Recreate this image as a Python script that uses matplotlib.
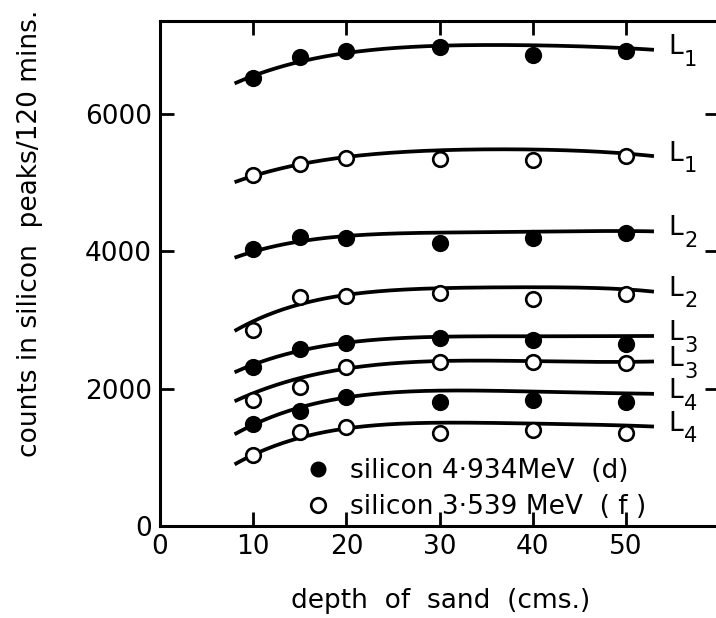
import numpy as np
import matplotlib
matplotlib.use('Agg')
from matplotlib import pyplot as plt
from matplotlib.lines import Line2D

plt.rcParams['font.family'] = 'DejaVu Sans'

# depth of sand (cms.) at which counts were taken
depth = [10, 15, 20, 30, 40, 50]

# counts / 120 mins, filled = 4.934 MeV (d), open = 3.539 MeV (f)
d_L1 = [6520, 6830, 6920, 6970, 6860, 6920]
f_L1 = [5110, 5270, 5350, 5340, 5330, 5380]
d_L2 = [4030, 4200, 4190, 4120, 4190, 4260]
f_L2 = [2850, 3340, 3350, 3390, 3310, 3380]
d_L3 = [2310, 2570, 2660, 2730, 2710, 2650]
f_L3 = [1840, 2030, 2310, 2390, 2390, 2370]
d_L4 = [1490, 1680, 1880, 1810, 1840, 1810]
f_L4 = [1030, 1370, 1440, 1360, 1390, 1350]

# hand-drawn trend curves, read at these depths
curve_x = [8, 10, 15, 20, 30, 40, 50, 53]
cd_L1 = [6450, 6540, 6750, 6900, 6980, 7000, 6955, 6930]
cf_L1 = [5010, 5090, 5250, 5390, 5460, 5480, 5425, 5380]
cd_L2 = [3900, 4000, 4140, 4220, 4270, 4285, 4290, 4290]
cf_L2 = [2850, 2960, 3240, 3360, 3460, 3475, 3445, 3410]
cd_L3 = [2250, 2330, 2550, 2680, 2745, 2765, 2765, 2765]
cf_L3 = [1835, 1905, 2150, 2310, 2390, 2400, 2395, 2390]
cd_L4 = [1350, 1455, 1710, 1900, 1955, 1960, 1935, 1920]
cf_L4 = [915, 1010, 1280, 1440, 1490, 1495, 1465, 1445]

series = [
    (d_L1, cd_L1, True, '1'),
    (f_L1, cf_L1, False, '1'),
    (d_L2, cd_L2, True, '2'),
    (f_L2, cf_L2, False, '2'),
    (d_L3, cd_L3, True, '3'),
    (f_L3, cf_L3, False, '3'),
    (d_L4, cd_L4, True, '4'),
    (f_L4, cf_L4, False, '4'),
]

fig = plt.figure(figsize=(7.16, 6.18), dpi=100)
ax = fig.add_axes([160 / 716, 92 / 618, 60 * 9.32 / 716, 505 / 618])

for pts, curve, filled, tag in series:
    # smooth the read curve with a polynomial fit
    coef = np.polyfit(curve_x, curve, 4)
    xs = np.linspace(curve_x[0], curve_x[-1], 200)
    ax.plot(xs, np.polyval(coef, xs), color='black', lw=2.7,
            solid_capstyle='butt', zorder=2)
    ax.plot(depth, pts, ls='none', marker='o', ms=10.5,
            mfc='black' if filled else 'white', mec='black', mew=1.9, zorder=3)
    ax.text(54.6, curve[-1] + 40, 'L', fontsize=19, ha='left', va='center')
    ax.annotate(tag, (54.6, curve[-1] + 40), xytext=(11, -9),
                textcoords='offset points', fontsize=15, ha='left', va='center')

handles = [
    Line2D([], [], ls='none', marker='o', ms=10.5, mfc='black', mec='black'),
    Line2D([], [], ls='none', marker='o', ms=10.5, mfc='white', mec='black', mew=1.9),
]
ax.legend(handles, ['silicon 4\u00b7934MeV  (d)', 'silicon 3\u00b7539 MeV  ( f )'],
          loc='lower left', bbox_to_anchor=(0.24, -0.01), frameon=False,
          fontsize=19, handlelength=1.0, handletextpad=0.7, labelspacing=0.38,
          borderaxespad=0)

ax.set_xlim(0, 60)
ax.set_ylim(0, 7350)
ax.set_xticks([0, 10, 20, 30, 40, 50])
ax.set_yticks([0, 2000, 4000, 6000])
ax.tick_params(direction='in', length=10, width=2, labelsize=19, pad=6,
               top=True, right=True)
ax.spines['right'].set_visible(False)
for s in ['left', 'bottom', 'top']:
    ax.spines[s].set_linewidth(2.2)

fig.text(30 / 716, 1 - 233 / 618, 'counts in silicon  peaks/120 mins.',
         rotation=90, ha='center', va='center', fontsize=19)
fig.text(441 / 716, 1 - 601 / 618, 'depth  of  sand  (cms.)',
         ha='center', va='center', fontsize=19)

fig.savefig('out.png', dpi=100)
